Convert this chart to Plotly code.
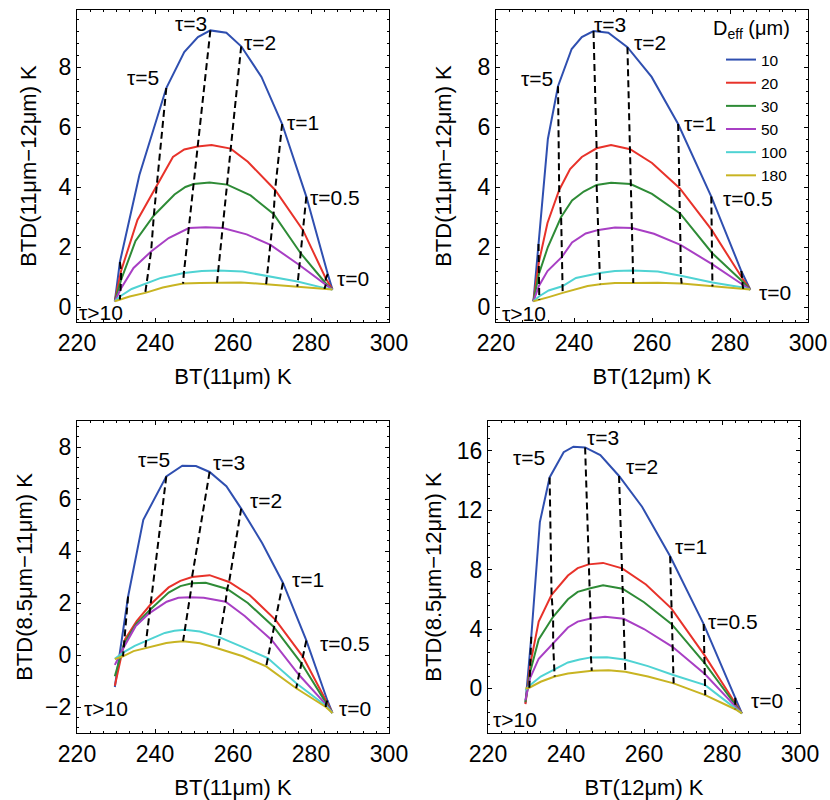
import plotly.graph_objects as go

# ---------------- data ----------------
DEFF = [10, 20, 30, 50, 100, 180]
COLORS = ["#2f4fb0", "#e8322a", "#2e8b36", "#a83fc4", "#4fd3d3", "#c8b422"]
# optical-depth grid along each curve (left end = tau>10, right end = tau=0)
TAU = [">10", 10, 7, 5, 4, 3.5, 3, 2.5, 2, 1.5, 1, 0.5, 0.1, 0]
DASHED_TAU = [10, 5, 3, 2, 1, 0.5, 0.1]

# Panel 1: BT(11um) vs BTD(11-12)
P1_BT = [
    [229.7, 231.0, 236.0, 242.9, 247.5, 251.0, 254.2, 258.3, 262.1, 267.3, 272.6, 278.8, 284.3, 285.5],
    [229.7, 231.3, 235.5, 240.3, 244.6, 247.5, 250.9, 254.5, 259.4, 263.8, 270.8, 277.9, 283.8, 285.5],
    [229.7, 231.3, 235.0, 239.7, 245.0, 247.8, 249.9, 254.0, 258.5, 264.5, 270.4, 277.3, 283.7, 285.5],
    [229.7, 231.2, 234.5, 239.0, 243.5, 246.5, 248.7, 253.0, 257.4, 263.5, 269.6, 277.0, 283.8, 285.5],
    [229.7, 231.0, 234.0, 237.8, 241.5, 244.5, 247.4, 252.0, 256.2, 262.5, 268.7, 276.5, 283.5, 285.5],
    [229.7, 231.0, 233.5, 237.5, 242.0, 244.5, 247.2, 251.5, 255.9, 262.0, 268.5, 276.5, 283.5, 285.5],
]
P1_BTD = [
    [0.19, 1.5, 4.4, 7.3, 8.5, 9.0, 9.22, 9.14, 8.69, 7.67, 6.1, 3.68, 1.1, 0.58],
    [0.19, 1.2, 2.9, 4.0, 5.0, 5.25, 5.35, 5.4, 5.28, 4.84, 3.9, 2.57, 0.95, 0.58],
    [0.19, 0.9, 2.2, 3.05, 3.75, 4.0, 4.1, 4.15, 4.08, 3.72, 3.1, 1.8, 0.8, 0.58],
    [0.19, 0.6, 1.3, 1.85, 2.3, 2.5, 2.63, 2.66, 2.63, 2.42, 2.07, 1.4, 0.75, 0.58],
    [0.19, 0.35, 0.6, 0.78, 0.97, 1.05, 1.13, 1.2, 1.22, 1.18, 1.04, 0.85, 0.63, 0.58],
    [0.19, 0.25, 0.35, 0.47, 0.65, 0.72, 0.78, 0.8, 0.81, 0.82, 0.76, 0.68, 0.6, 0.58],
]

# Panel 2: BT(12um) vs BTD(11-12)
P2_BT = [
    [229.6, 230.9, 233.3, 235.9, 239.4, 242.0, 245.0, 248.8, 253.7, 259.9, 266.7, 275.2, 282.9, 285.2],
    [229.6, 231.0, 233.2, 236.2, 239.0, 242.0, 245.8, 249.5, 254.4, 260.0, 267.1, 275.3, 283.2, 285.2],
    [229.6, 231.0, 233.3, 236.7, 239.5, 242.5, 245.8, 249.5, 254.5, 260.0, 267.2, 275.4, 283.2, 285.2],
    [229.6, 231.0, 233.2, 236.9, 239.5, 243.0, 246.3, 250.5, 254.9, 260.5, 267.3, 275.4, 283.2, 285.2],
    [229.6, 231.0, 233.5, 237.0, 240.5, 243.5, 246.6, 250.5, 255.1, 261.5, 267.4, 275.5, 283.3, 285.2],
    [229.6, 231.1, 233.5, 237.1, 241.0, 243.5, 246.7, 250.5, 255.2, 261.5, 267.6, 275.5, 283.4, 285.2],
]
P2_BTD = [
    [0.19, 2.1, 5.6, 7.36, 8.6, 9.0, 9.2, 9.14, 8.66, 7.67, 6.1, 3.68, 1.2, 0.58],
    [0.19, 1.5, 2.8, 3.9, 4.6, 5.0, 5.29, 5.4, 5.26, 4.8, 3.96, 2.57, 0.95, 0.58],
    [0.19, 1.1, 2.0, 3.0, 3.55, 3.85, 4.07, 4.14, 4.1, 3.77, 3.12, 1.8, 0.85, 0.58],
    [0.19, 0.7, 1.2, 1.67, 2.15, 2.45, 2.57, 2.65, 2.63, 2.44, 2.07, 1.43, 0.75, 0.58],
    [0.19, 0.35, 0.55, 0.69, 0.97, 1.05, 1.13, 1.2, 1.22, 1.18, 1.04, 0.82, 0.65, 0.58],
    [0.19, 0.24, 0.33, 0.47, 0.62, 0.7, 0.76, 0.8, 0.8, 0.81, 0.78, 0.68, 0.6, 0.58],
]

# Panel 3: BT(11um) vs BTD(8.5-11)
P3_BT = [
    [229.7, 233.1, 237.0, 242.9, 247.0, 250.5, 254.0, 258.3, 262.1, 267.5, 272.8, 278.8, 284.2, 285.5],
    [229.7, 232.3, 235.3, 238.9, 243.5, 246.5, 249.5, 254.0, 259.0, 264.3, 270.9, 277.9, 284.0, 285.5],
    [229.7, 232.1, 235.2, 238.8, 243.5, 246.5, 249.5, 253.0, 258.5, 263.8, 270.4, 277.5, 283.9, 285.5],
    [229.7, 232.0, 235.0, 238.5, 243.0, 246.0, 248.9, 252.5, 258.1, 263.0, 269.9, 276.9, 283.8, 285.5],
    [229.7, 231.9, 234.8, 237.7, 242.5, 245.0, 247.6, 251.5, 256.6, 262.5, 268.9, 276.3, 283.8, 285.5],
    [229.7, 231.8, 234.5, 237.5, 242.9, 245.0, 247.2, 251.5, 256.2, 262.5, 268.5, 276.2, 283.8, 285.5],
]
P3_BTD = [
    [-1.23, 2.25, 5.2, 6.87, 7.28, 7.27, 7.04, 6.49, 5.63, 4.3, 2.78, 0.56, -1.75, -2.23],
    [-1.18, 0.6, 1.3, 1.95, 2.6, 2.85, 3.0, 3.07, 2.81, 2.3, 1.35, -0.06, -1.8, -2.23],
    [-0.82, 0.45, 1.2, 1.75, 2.4, 2.65, 2.76, 2.78, 2.54, 2.0, 1.09, -0.31, -1.85, -2.23],
    [-0.38, 0.3, 1.1, 1.6, 2.05, 2.2, 2.22, 2.2, 2.05, 1.5, 0.58, -0.76, -1.9, -2.23],
    [-0.15, 0.1, 0.35, 0.55, 0.85, 0.93, 0.97, 0.9, 0.68, 0.3, -0.12, -1.1, -1.95, -2.23],
    [-0.16, -0.05, 0.15, 0.27, 0.46, 0.5, 0.53, 0.45, 0.25, -0.05, -0.44, -1.28, -2.0, -2.23],
]

# Panel 4: BT(12um) vs BTD(8.5-12)
P4_BT = [
    [229.6, 231.1, 233.3, 235.8, 239.4, 241.9, 244.9, 248.8, 253.6, 259.5, 266.7, 275.3, 283.4, 285.1],
    [229.6, 230.9, 233.0, 236.3, 240.5, 243.0, 245.8, 249.5, 254.4, 260.5, 267.0, 275.5, 283.4, 285.1],
    [229.6, 230.9, 233.0, 236.7, 240.5, 243.0, 246.0, 249.5, 254.5, 260.0, 267.1, 275.6, 283.4, 285.1],
    [229.6, 230.8, 233.0, 236.7, 240.5, 243.0, 246.3, 250.0, 254.8, 260.0, 267.3, 275.6, 283.4, 285.1],
    [229.6, 230.7, 233.5, 237.0, 240.5, 243.5, 246.4, 250.5, 255.0, 261.0, 267.5, 275.7, 283.4, 285.1],
    [229.6, 230.6, 233.5, 237.1, 240.5, 243.5, 246.6, 250.9, 255.2, 261.0, 267.6, 275.7, 283.4, 285.1],
]
P4_BTD = [
    [-1.01, 3.48, 11.2, 14.2, 15.9, 16.27, 16.22, 15.7, 14.3, 12.23, 8.9, 4.33, -0.63, -1.68],
    [-1.05, 1.7, 4.5, 6.3, 7.6, 8.1, 8.35, 8.45, 8.08, 7.0, 5.39, 2.24, -1.0, -1.68],
    [-0.9, 1.2, 3.3, 4.82, 6.0, 6.5, 6.73, 6.95, 6.71, 5.8, 4.33, 1.68, -1.1, -1.68],
    [-0.79, 0.7, 2.0, 3.03, 4.1, 4.5, 4.71, 4.82, 4.69, 4.0, 2.8, 0.97, -1.2, -1.68],
    [-0.11, 0.2, 0.8, 1.3, 1.75, 1.95, 2.09, 2.1, 1.95, 1.5, 0.9, 0.22, -1.3, -1.68],
    [0.0, 0.05, 0.45, 0.8, 1.0, 1.1, 1.19, 1.23, 1.12, 0.8, 0.34, -0.45, -1.4, -1.68],
]

X_TITLES = ["BT(11μm) K", "BT(12μm) K", "BT(11μm) K", "BT(12μm) K"]
Y_TITLES = ["BTD(11μm−12μm) K", "BTD(11μm−12μm) K", "BTD(8.5μm−11μm) K", "BTD(8.5μm−12μm) K"]
Y_RANGES = [[-0.5, 9.9], [-0.5, 9.9], [-3, 9], [-3, 18]]
Y_TICKS = [[0, 2, 4, 6, 8], [0, 2, 4, 6, 8], [-2, 0, 2, 4, 6, 8], [0, 4, 8, 12, 16]]
Y_MINOR = [0.4, 0.4, 0.4, 0.8]
X_TICKS = [220, 240, 260, 280, 300]
X_MINOR = 20 / 6

# tau labels per panel: (text, x, y)
LABELS = [
    [("τ=3", 249.3, 9.44), ("τ=2", 266.8, 8.83), ("τ=5", 236.9, 7.65), ("τ=1", 277.9, 6.14),
     ("τ=0.5", 286.1, 3.66), ("τ=0", 290.8, 0.96), ("τ>10", 226.2, -0.2)],
    [("τ=3", 249.3, 9.42), ("τ=2", 259.5, 8.83), ("τ=5", 230.5, 7.61), ("τ=1", 272.3, 6.12),
     ("τ=0.5", 284.6, 3.62), ("τ=0", 291.5, 0.47), ("τ>10", 227.1, -0.22)],
    [("τ=5", 239.7, 7.51), ("τ=3", 259.1, 7.42), ("τ=2", 268.5, 5.95), ("τ=1", 279.2, 2.92),
     ("τ=0.5", 288.6, 0.45), ("τ=0", 291.2, -2.04), ("τ>10", 227.4, -2.04)],
    [("τ=5", 230.6, 15.55), ("τ=3", 249.6, 16.9), ("τ=2", 259.5, 14.92), ("τ=1", 272.1, 9.54),
     ("τ=0.5", 282.9, 4.49), ("τ=0", 291.5, -0.79), ("τ>10", 227.0, -2.09)],
]

# ---------------- layout geometry ----------------
W, H = 830, 800
X_DOM = [[77 / W, 389 / W], [496 / W, 808 / W], [77 / W, 389 / W], [488 / W, 800 / W]]
Y_DOM = [[1 - 322 / H, 1 - 10 / H], [1 - 322 / H, 1 - 10 / H],
         [1 - 733 / H, 1 - 421 / H], [1 - 733 / H, 1 - 421 / H]]
Y_STANDOFF = [15, 19, 6, 8]

FONT = "Liberation Sans, Arial, Helvetica, sans-serif"

fig = go.Figure()
panels = [(P1_BT, P1_BTD), (P2_BT, P2_BTD), (P3_BT, P3_BTD), (P4_BT, P4_BTD)]
for pi, (bt, btd) in enumerate(panels):
    xa = "x" if pi == 0 else f"x{pi + 1}"
    ya = "y" if pi == 0 else f"y{pi + 1}"
    for d in range(len(DEFF)):
        fig.add_trace(go.Scatter(
            x=bt[d], y=btd[d], mode="lines",
            line=dict(color=COLORS[d], width=2),
            name=str(DEFF[d]), showlegend=(pi == 1),
            xaxis=xa, yaxis=ya, hoverinfo="skip"))
    for t in DASHED_TAU:
        k = TAU.index(t)
        fig.add_trace(go.Scatter(
            x=[bt[d][k] for d in range(len(DEFF))],
            y=[btd[d][k] for d in range(len(DEFF))],
            mode="lines", line=dict(color="black", width=2, dash="7px,4px"),
            showlegend=False, xaxis=xa, yaxis=ya, hoverinfo="skip"))
    for (txt, lx, ly) in LABELS[pi]:
        fig.add_annotation(text=txt, x=lx, y=ly, xref=xa, yref=ya, showarrow=False,
                           font=dict(size=21, family=FONT, color="black"))

# legend title (as text above the legend entries)
fig.add_annotation(text="D<sub>eff</sub> (μm)", x=751 / W, y=1 - 30 / H, xref="paper", yref="paper",
                   showarrow=False, xanchor="center", yanchor="middle",
                   font=dict(size=20, family=FONT, color="black"))

axis_common = dict(ticks="inside", ticklen=4, tickwidth=1.2, tickcolor="black",
                   showline=True, mirror="allticks", linecolor="black", linewidth=1.3,
                   showgrid=False, zeroline=False, automargin=False,
                   tickfont=dict(size=23, family=FONT, color="black"))

layout = dict(width=W, height=H, margin=dict(l=0, r=0, t=0, b=0, autoexpand=False),
              paper_bgcolor="white", plot_bgcolor="white",
              font=dict(family=FONT, color="black"),
              legend=dict(x=721 / W, y=1 - 43 / H, xanchor="left", yanchor="top",
                          bgcolor="rgba(0,0,0,0)", borderwidth=0,
                          font=dict(size=15.5, family=FONT, color="black"),
                          tracegroupgap=0, itemwidth=30))
for pi in range(4):
    xk = "xaxis" if pi == 0 else f"xaxis{pi + 1}"
    yk = "yaxis" if pi == 0 else f"yaxis{pi + 1}"
    ya = "y" if pi == 0 else f"y{pi + 1}"
    xa = "x" if pi == 0 else f"x{pi + 1}"
    layout[xk] = dict(domain=X_DOM[pi], anchor=ya, range=[220, 300], tickvals=X_TICKS,
                      ticklabelstandoff=0,
                      minor=dict(ticks="inside", ticklen=2, tickwidth=1, tickcolor="black",
                                 tick0=220, dtick=X_MINOR, showgrid=False),
                      title=dict(text=X_TITLES[pi], standoff=13,
                                 font=dict(size=22, family=FONT, color="black")),
                      **axis_common)
    layout[yk] = dict(domain=Y_DOM[pi], anchor=xa, range=Y_RANGES[pi], tickvals=Y_TICKS[pi],
                      ticklabelstandoff=0,
                      minor=dict(ticks="inside", ticklen=2, tickwidth=1, tickcolor="black",
                                 tick0=0, dtick=Y_MINOR[pi], showgrid=False),
                      title=dict(text=Y_TITLES[pi], standoff=Y_STANDOFF[pi],
                                 font=dict(size=22, family=FONT, color="black")),
                      **axis_common)
fig.update_layout(**layout)
fig.write_html("out.html")
